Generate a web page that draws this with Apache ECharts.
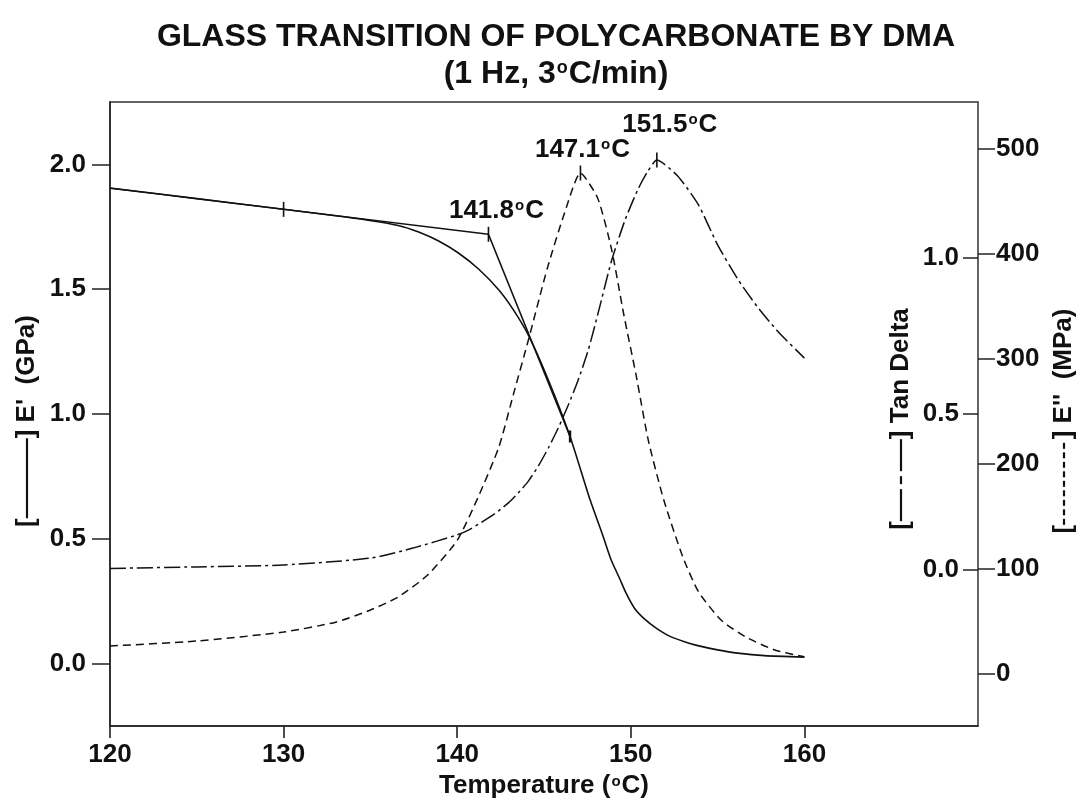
<!DOCTYPE html>
<html>
<head>
<meta charset="utf-8">
<script src="https://cdn.jsdelivr.net/npm/echarts@6/dist/echarts.min.js"></script>
<style>
  html, body { margin: 0; padding: 0; background: #fff; overflow: hidden; }
  #chart { width: 1076px; height: 799px; }
</style>
</head>
<body>
<div id="chart"></div>
<script>
// DMA scan of polycarbonate: storage modulus E', loss modulus E'' and tan delta vs temperature

// Temperature axis ticks (°C)
const tempTicks = [120, 130, 140, 150, 160];
// Left axis ticks, E' (GPa)
const storageTicks = [0, 0.5, 1.0, 1.5, 2.0];
// Inner right axis ticks, tan delta
const tanDeltaTicks = [0, 0.5, 1.0];
// Outer right axis ticks, E'' (MPa)
const lossTicks = [0, 100, 200, 300, 400, 500];

// Storage modulus E' (GPa): [temperature, value]
const storageModulus = [
  [120.0, 1.905], [125.0, 1.863], [130.0, 1.820], [133.0, 1.794], [134.7, 1.778],
  [136.6, 1.755], [137.78, 1.729], [138.93, 1.693], [140.07, 1.645], [141.23, 1.581],
  [142.4, 1.497], [143.2, 1.421], [144.1, 1.316], [145.25, 1.136], [146.5, 0.910],
  [147.66, 0.655], [148.4, 0.511], [148.87, 0.415], [149.35, 0.342], [149.73, 0.282],
  [150.21, 0.222], [150.8, 0.178], [151.46, 0.142], [152.23, 0.110], [153.09, 0.088],
  [153.86, 0.072], [155.0, 0.055], [156.16, 0.042], [157.7, 0.032], [160.0, 0.026]
];

// Onset construction on E': glassy baseline tangent and inflection tangent
const glassyTangent = [[120.0, 1.905], [141.8, 1.720]];
const inflectionTangent = [[141.8, 1.720], [146.5, 0.910]];

// Loss modulus E'' (MPa)
const lossModulus = [
  [120.0, 26.3], [125.0, 31.0], [130.0, 39.6], [133.0, 49.0], [135.0, 60.6],
  [136.6, 73.0], [138.3, 94.0], [140.0, 127.0], [141.2, 168.0], [142.4, 216.0],
  [143.3, 270.0], [144.1, 318.0], [145.2, 387.0], [146.2, 440.0], [147.1, 477.3],
  [148.1, 453.0], [148.9, 404.0], [149.6, 342.0], [150.3, 285.0], [151.0, 223.0],
  [151.9, 165.5], [153.0, 111.0], [153.9, 78.0], [155.2, 51.0], [156.6, 35.0],
  [158.3, 22.5], [160.0, 16.0]
];

// Tan delta
const tanDelta = [
  [120.0, 0.005], [125.0, 0.010], [130.0, 0.016], [135.0, 0.038], [137.5, 0.071],
  [139.97, 0.112], [140.65, 0.128], [141.23, 0.147], [141.8, 0.167], [142.37, 0.189],
  [142.95, 0.215], [143.52, 0.247], [144.1, 0.285], [144.67, 0.333], [145.25, 0.391],
  [145.82, 0.455], [146.4, 0.529], [146.97, 0.609], [147.55, 0.705], [148.12, 0.824],
  [148.87, 0.987], [149.67, 1.122], [150.42, 1.221], [150.99, 1.279], [151.5, 1.314],
  [152.7, 1.263], [153.9, 1.170], [155.0, 1.042], [156.2, 0.929], [157.3, 0.843],
  [158.5, 0.763], [160.0, 0.679]
];

// Marked points: [temperature, value]
const storageMarks = [[130.0, 1.820], [141.8, 1.720], [146.5, 0.910]];
const lossPeak = [147.1, 477.3];
const tanDeltaPeak = [151.5, 1.314];

const FONT = '"Liberation Sans", Arial, Helvetica, sans-serif';
const INK = '#111';
const FS = 26;

const richBase = {
  n: { fontFamily: FONT, fontWeight: 'bold', fontSize: FS, color: INK },
  s: { fontFamily: FONT, fontWeight: 'bold', fontSize: 15, color: INK, verticalAlign: 'top', padding: [1, 1, 0, 1] }
};

function degC(num) {
  return '{n|' + num + '}{s|o}{n|C}';
}

// line-style swatches drawn inside the axis names
function swatchRich() {
  return {
    t: { fontFamily: FONT, fontWeight: 'bold', fontSize: FS, color: INK },
    L: { width: 80, height: 2.2, backgroundColor: INK },
    A: { width: 32, height: 2.2, backgroundColor: INK },
    B: { width: 8, height: 2.2, backgroundColor: INK },
    g: { width: 5, height: 2.2 },
    d: { width: 6, height: 2.2, backgroundColor: INK },
    h: { width: 3.5, height: 2.2 }
  };
}
const dashedSwatch = (function () {
  let s = '';
  for (let i = 0; i < 9; i++) s += '{d| }{h| }';
  return s;
})();

const chart = echarts.init(document.getElementById('chart'), null, { renderer: 'canvas' });

const markSymbol = 'rect';
const markSize = [1.6, 15];

function peakLabel(offset) {
  return {
    show: true,
    position: 'top',
    distance: 3,
    offset: offset,
    color: INK,
    opacity: 1,
    formatter: function (p) { return degC(p.value[0].toFixed(1)); },
    rich: richBase
  };
}

const tickLine = { color: '#222', width: 1.5 };
const labelFont = { fontFamily: FONT, fontWeight: 'bold', fontSize: FS, color: INK };
const markItem = { color: INK, opacity: 1 };

const option = {
  backgroundColor: '#fff',
  animation: false,
  title: {
    left: 551,
    textAlign: 'center',
    top: 14,
    text: '{a|GLASS TRANSITION OF POLYCARBONATE BY DMA}\n{a|(1 Hz, 3}{b|o}{a|C/min)}',
    textStyle: {
      rich: {
        a: { fontFamily: FONT, fontWeight: 'bold', fontSize: 32, color: INK, lineHeight: 37 },
        b: { fontFamily: FONT, fontWeight: 'bold', fontSize: 18, color: INK, lineHeight: 37, verticalAlign: 'top', padding: [3, 1, 0, 1] }
      }
    }
  },
  grid: {
    left: 110, right: 98, top: 102, bottom: 73,
    outerBoundsMode: 'none',
    show: true, borderColor: '#333', borderWidth: 1.5, backgroundColor: '#fff'
  },
  xAxis: {
    type: 'value', min: 120, max: 170, position: 'bottom',
    axisLine: { show: true, onZero: false, lineStyle: tickLine },
    axisTick: { show: true, inside: false, length: 12, lineStyle: { color: '#222', width: 1.6 }, customValues: tempTicks },
    axisLabel: Object.assign({ customValues: tempTicks, margin: 16 }, labelFont),
    splitLine: { show: false },
    name: '{n|Temperature (}{s|o}{n|C)}',
    nameLocation: 'middle',
    nameGap: 44,
    nameTextStyle: { rich: richBase }
  },
  yAxis: [
    {
      type: 'value', position: 'left', min: -0.25, max: 2.25,
      axisLine: { show: true, onZero: false, lineStyle: tickLine },
      axisTick: { show: true, length: 18, lineStyle: tickLine, customValues: storageTicks },
      axisLabel: Object.assign({ customValues: storageTicks, margin: 24,
        formatter: function (v) { return v.toFixed(1); } }, labelFont),
      splitLine: { show: false },
      name: '{t|[}{L| }{t|] E\'  (GPa)}',
      nameLocation: 'middle', nameRotate: 90, nameGap: 70, nameMoveOverlap: false,
      nameTextStyle: { rich: swatchRich(), padding: [0, 14, 0, 0] }
    },
    {
      type: 'value', position: 'right', min: -0.5, max: 1.5,
      axisLine: { show: false, onZero: false },
      axisTick: { show: true, inside: true, length: 15, lineStyle: tickLine, customValues: tanDeltaTicks },
      axisLabel: Object.assign({ inside: true, customValues: tanDeltaTicks, margin: 19,
        formatter: function (v) { return v.toFixed(1); } }, labelFont),
      splitLine: { show: false },
      name: '{t|[}{A| }{g| }{B| }{g| }{A| }{t|] Tan Delta}',
      nameLocation: 'middle', nameRotate: 90, nameGap: -90, nameMoveOverlap: false,
      nameTextStyle: { rich: swatchRich(), padding: [0, 10, 0, 0] }
    },
    {
      type: 'value', position: 'right', min: -50, max: 545,
      axisLine: { show: false, onZero: false },
      axisTick: { show: true, length: 17, lineStyle: tickLine, customValues: lossTicks },
      axisLabel: Object.assign({ customValues: lossTicks, margin: 18 }, labelFont),
      splitLine: { show: false },
      name: '{t|[}' + dashedSwatch + '{t|] E\'\'  (MPa)}',
      nameLocation: 'middle', nameRotate: 90, nameGap: 73, nameMoveOverlap: false,
      nameTextStyle: { rich: swatchRich(), padding: [0, 14, 0, 0] }
    }
  ],
  series: [
    {
      name: "E'", type: 'line', yAxisIndex: 0, data: storageModulus, smooth: 0.2,
      symbol: 'none', lineStyle: { color: INK, width: 1.6, type: 'solid' }, z: 3
    },
    {
      name: 'glassy tangent', type: 'line', yAxisIndex: 0, data: glassyTangent,
      symbol: 'none', lineStyle: { color: INK, width: 1.4 }, z: 3
    },
    {
      name: 'inflection tangent', type: 'line', yAxisIndex: 0, data: inflectionTangent,
      symbol: 'none', lineStyle: { color: INK, width: 1.6 }, z: 3
    },
    {
      name: "E''", type: 'line', yAxisIndex: 2, data: lossModulus, smooth: 0.2,
      symbol: 'none', lineStyle: { color: INK, width: 1.5, type: [8, 5] }, z: 3
    },
    {
      name: 'Tan Delta', type: 'line', yAxisIndex: 1, data: tanDelta, smooth: 0.2,
      symbol: 'none', lineStyle: { color: INK, width: 1.5, type: [16, 4, 3, 4] }, z: 3
    },
    {
      name: "E' marks", type: 'scatter', yAxisIndex: 0, symbol: markSymbol, symbolSize: markSize,
      itemStyle: markItem, z: 4,
      data: [
        { value: storageMarks[0] },
        { value: storageMarks[1], label: peakLabel([8, 0]) },
        { value: storageMarks[2], symbolSize: [2.4, 12] }
      ]
    },
    {
      name: "E'' peak", type: 'scatter', yAxisIndex: 2, symbol: markSymbol, symbolSize: markSize,
      itemStyle: markItem, z: 4,
      data: [{ value: lossPeak, label: peakLabel([2, 0]) }]
    },
    {
      name: 'Tan Delta peak', type: 'scatter', yAxisIndex: 1, symbol: markSymbol, symbolSize: markSize,
      itemStyle: markItem, z: 4,
      data: [{ value: tanDeltaPeak, label: peakLabel([13, -12]) }]
    }
  ]
};

chart.setOption(option);
</script>
</body>
</html>
